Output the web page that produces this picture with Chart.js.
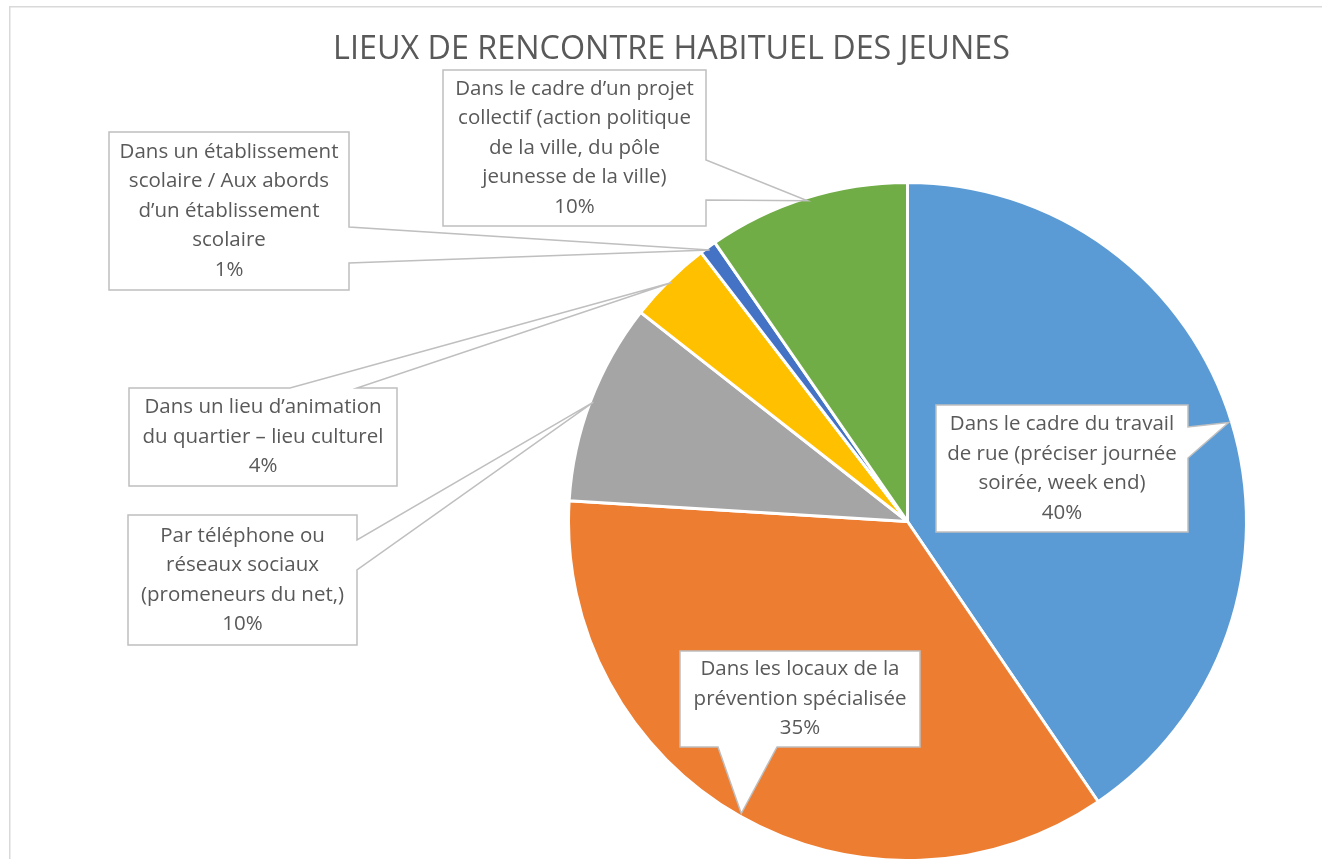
<!DOCTYPE html>
<html>
<head>
<meta charset="utf-8">
<script src="https://cdn.jsdelivr.net/npm/chart.js@4.4.1/dist/chart.umd.min.js"></script>
<style>
  html, body { margin: 0; padding: 0; background: #fff; overflow: hidden; }
  canvas { display: block; }
</style>
</head>
<body>
<canvas id="chart" width="1322" height="859"></canvas>
<script>
const title = 'LIEUX DE RENCONTRE HABITUEL DES JEUNES'

const categories = [
  ['Dans le cadre du travail', 'de rue (préciser journée', 'soirée, week end)'],
  ['Dans les locaux de la', 'prévention spécialisée'],
  ['Par téléphone ou', 'réseaux sociaux', '(promeneurs du net,)'],
  ['Dans un lieu d’animation', 'du quartier – lieu culturel'],
  ['Dans un établissement', 'scolaire / Aux abords', 'd’un établissement', 'scolaire'],
  ['Dans le cadre d’un projet', 'collectif (action politique', 'de la ville, du pôle', 'jeunesse de la ville)']
]
const shares = [40.49, 35.49, 9.6, 4.0, 0.8, 9.62]
const colors = ['#5B9BD5', '#ED7D31', '#A5A5A5', '#FFC000', '#4472C4', '#70AD47']

// callout boxes placed by hand, like the manual label positions in the workbook
// side = edge the pointer leaves from, a/b = where the pointer meets that edge
const callouts = [
  { x: 936, y: 405, w: 252, h: 127, side: 'right', a: 427, b: 458 },
  { x: 680, y: 651, w: 240, h: 96, side: 'bottom', a: 718, b: 777 },
  { x: 128, y: 515, w: 229, h: 130, side: 'right', a: 540, b: 570 },
  { x: 129, y: 388, w: 268, h: 98, side: 'top', a: 290, b: 357 },
  { x: 109, y: 132, w: 240, h: 158, side: 'right', a: 227, b: 263 },
  { x: 443, y: 70, w: 263, h: 156, side: 'right', a: 160, b: 200 }
]

const font = '"Open Sans", Lato, sans-serif'
const textColor = '#595959'
const lineColor = '#BFBFBF'
const lineHeight = 29.5

const calloutPlugin = {
  id: 'callouts',
  beforeDraw(chart) {
    const { ctx } = chart
    ctx.save()
    ctx.strokeStyle = '#D9D9D9'
    ctx.lineWidth = 1.5
    ctx.strokeRect(9.75, 6.75, 1400, 1000)

    // title, sized to the width it has in the picture
    let size = 28
    ctx.font = `${size}px ${font}`
    size = size * 677 / ctx.measureText(title).width
    ctx.font = `${size}px ${font}`
    ctx.fillStyle = textColor
    ctx.textAlign = 'center'
    ctx.textBaseline = 'middle'
    ctx.fillText(title, 671.5, 50)
    ctx.restore()
  },
  afterDatasetsDraw(chart) {
    const { ctx } = chart
    const meta = chart.getDatasetMeta(0)
    const total = shares.reduce((s, v) => s + v, 0)
    ctx.save()
    meta.data.forEach((arc, i) => {
      const { x, y, startAngle, endAngle, outerRadius } = arc.getProps(
        ['x', 'y', 'startAngle', 'endAngle', 'outerRadius'],
        true
      )
      const mid = (startAngle + endAngle) / 2
      const tx = x + Math.cos(mid) * (outerRadius - 3)
      const ty = y + Math.sin(mid) * (outerRadius - 3)
      const c = callouts[i]
      const r = c.x + c.w
      const btm = c.y + c.h

      ctx.beginPath()
      ctx.moveTo(c.x, c.y)
      if (c.side === 'top') {
        ctx.lineTo(c.a, c.y)
        ctx.lineTo(tx, ty)
        ctx.lineTo(c.b, c.y)
      }
      ctx.lineTo(r, c.y)
      if (c.side === 'right') {
        ctx.lineTo(r, c.a)
        ctx.lineTo(tx, ty)
        ctx.lineTo(r, c.b)
      }
      ctx.lineTo(r, btm)
      if (c.side === 'bottom') {
        ctx.lineTo(c.b, btm)
        ctx.lineTo(tx, ty)
        ctx.lineTo(c.a, btm)
      }
      ctx.lineTo(c.x, btm)
      ctx.closePath()
      ctx.fillStyle = '#fff'
      ctx.fill()
      ctx.strokeStyle = lineColor
      ctx.lineWidth = 1.5
      ctx.lineJoin = 'miter'
      ctx.stroke()

      const lines = [...chart.data.labels[i], Math.round(shares[i] / total * 100) + '%']
      ctx.font = `20.5px ${font}`
      ctx.fillStyle = textColor
      ctx.textAlign = 'center'
      ctx.textBaseline = 'middle'
      const top = c.y + (c.h - lines.length * lineHeight) / 2 + lineHeight / 2
      lines.forEach((line, j) => ctx.fillText(line, c.x + c.w / 2, top + j * lineHeight))
    })
    ctx.restore()
  }
}

new Chart(document.getElementById('chart'), {
  type: 'pie',
  data: {
    labels: categories,
    datasets: [{
      data: shares,
      backgroundColor: colors,
      borderColor: '#fff',
      borderWidth: 3,
      radius: 339
    }]
  },
  options: {
    responsive: false,
    animation: false,
    layout: { padding: { top: 184, left: 570, right: 77, bottom: 0 } },
    plugins: { legend: { display: false }, tooltip: { enabled: false } }
  },
  plugins: [calloutPlugin]
})
</script>
</body>
</html>
